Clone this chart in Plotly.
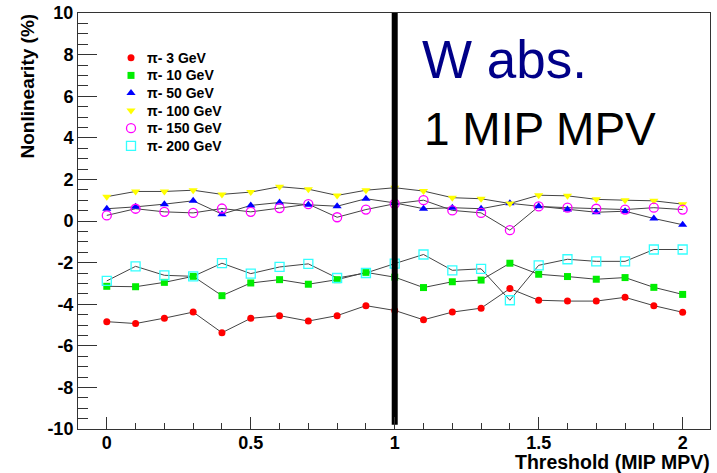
import plotly.graph_objects as go

threshold = [0.0, 0.1, 0.2, 0.3, 0.4, 0.5, 0.6, 0.7, 0.8, 0.9, 1.0,
             1.1, 1.2, 1.3, 1.4, 1.5, 1.6, 1.7, 1.8, 1.9, 2.0]

pi_3 = [-4.84, -4.93, -4.67, -4.38, -5.37, -4.68, -4.55, -4.81, -4.55, -4.07, -4.30,
        -4.75, -4.38, -4.19, -3.25, -3.81, -3.85, -3.85, -3.67, -4.07, -4.39]
pi_10 = [-3.14, -3.16, -2.95, -2.66, -3.59, -2.98, -2.82, -3.04, -2.82, -2.47, -2.70,
         -3.20, -2.92, -2.84, -2.03, -2.56, -2.67, -2.80, -2.72, -3.19, -3.53]
pi_50 = [0.59, 0.68, 0.81, 0.97, 0.33, 0.75, 0.89, 0.78, 0.71, 1.07, 0.87,
         0.59, 0.64, 0.59, 0.85, 0.71, 0.55, 0.42, 0.47, 0.12, -0.18]
pi_100 = [1.17, 1.42, 1.42, 1.48, 1.28, 1.39, 1.65, 1.53, 1.23, 1.48, 1.60,
          1.44, 1.12, 1.07, 0.84, 1.24, 1.21, 1.04, 1.00, 0.97, 0.81]
pi_150 = [0.27, 0.59, 0.44, 0.39, 0.60, 0.44, 0.62, 0.81, 0.18, 0.55, 0.83,
          1.00, 0.51, 0.39, -0.44, 0.70, 0.64, 0.59, 0.55, 0.64, 0.55]
pi_200 = [-2.88, -2.18, -2.61, -2.66, -2.03, -2.53, -2.21, -2.06, -2.74, -2.50, -2.05,
          -1.61, -2.37, -2.30, -3.81, -2.13, -1.84, -1.94, -1.94, -1.37, -1.37]

series_names = ["π- 3 GeV", "π- 10 GeV", "π- 50 GeV", "π- 100 GeV", "π- 150 GeV", "π- 200 GeV"]
series_values = [pi_3, pi_10, pi_50, pi_100, pi_150, pi_200]

cut_x = [1.0, 1.0]
cut_y = [-9.8, 10.0]

x_tick_vals = [0, 0.5, 1, 1.5, 2]
x_tick_text = ["0", "0.5", "1", "1.5", "2"]
y_tick_vals = [-10, -8, -6, -4, -2, 0, 2, 4, 6, 8, 10]
y_tick_text = ["-10", "-8", "-6", "-4", "-2", "0", "2", "4", "6", "8", "10"]

styles = [
    dict(symbol="circle", color="#ff0000", size=7, line=dict(width=0)),
    dict(symbol="square", color="#00ee00", size=7, line=dict(width=0)),
    dict(symbol="triangle-up", color="#0000ff", size=8, line=dict(width=0)),
    dict(symbol="triangle-down", color="#ffff00", size=8, line=dict(width=0)),
    dict(symbol="circle-open", color="#ff00ff", size=9, line=dict(width=1.3)),
    dict(symbol="square-open", color="#33ffff", size=9, line=dict(width=1.3)),
]

FONT = "Liberation Sans, Arial, sans-serif"

# layout geometry (pixels)
W, H = 717, 473
ML, MR, MT, MB = 78, 7, 13, 44
PW, PH = W - ML - MR, H - MT - MB

def px_x(p):
    return (p - ML) / PW

def px_y(p):
    return 1 - (p - MT) / PH

fig = go.Figure()

for vals in series_values:
    fig.add_trace(go.Scatter(
        x=threshold, y=vals, mode="lines",
        line=dict(color="#444444", width=1),
        showlegend=False, hoverinfo="skip"))

for name, vals, st in zip(series_names, series_values, styles):
    fig.add_trace(go.Scatter(
        x=threshold, y=vals, mode="markers", name=name,
        marker=st, showlegend=False))

fig.add_trace(go.Scatter(
    x=cut_x, y=cut_y, mode="lines", line=dict(color="black", width=6),
    showlegend=False, hoverinfo="skip"))

# manual ROOT-style legend (markers only) on an overlay axis in paper units
leg_x_marker = px_x(131)
leg_x_text = px_x(145)
leg_rows = [px_y(57.8 + 17.6 * i) for i in range(len(series_names))]
annotations = []
for name, st, yy in zip(series_names, styles, leg_rows):
    fig.add_trace(go.Scatter(
        x=[leg_x_marker], y=[yy], mode="markers", marker=st,
        xaxis="x2", yaxis="y2", showlegend=False, hoverinfo="skip"))
    annotations.append(dict(
        text=name, xref="paper", yref="paper", x=leg_x_text, y=yy,
        xanchor="left", yanchor="middle", showarrow=False,
        font=dict(family=FONT, size=14, color="black", weight="bold")))

annotations += [
    dict(text="W abs.", xref="paper", yref="paper", x=px_x(420), y=px_y(59.5),
         xanchor="left", yanchor="middle", showarrow=False,
         font=dict(family=FONT, size=53, color="#000088")),
    dict(text="1 MIP MPV", xref="paper", yref="paper", x=px_x(422), y=px_y(128.5),
         xanchor="left", yanchor="middle", showarrow=False,
         font=dict(family=FONT, size=46, color="black")),
    dict(text="Threshold (MIP MPV)", xref="paper", yref="paper", x=px_x(712), y=px_y(461.5),
         xanchor="right", yanchor="middle", showarrow=False,
         font=dict(family=FONT, size=19.5, color="black", weight="bold")),
    dict(text="Nonlinearity (%)", xref="paper", yref="paper", x=px_x(27), y=px_y(12),
         xanchor="center", yanchor="top", textangle=-90, showarrow=False,
         font=dict(family=FONT, size=19, color="black", weight="bold")),
]

fig.update_layout(
    width=W, height=H,
    margin=dict(l=ML, r=MR, t=MT, b=MB, autoexpand=False),
    paper_bgcolor="white", plot_bgcolor="white",
    font=dict(family=FONT, color="black"),
    showlegend=False,
    xaxis=dict(
        range=[-0.1, 2.095], showgrid=False, zeroline=False, automargin=False,
        showline=True, linecolor="#333333", linewidth=1, mirror=True,
        ticks="inside", ticklen=12, tickcolor="#333333", tickwidth=1,
        tickvals=x_tick_vals, ticktext=x_tick_text, ticklabelstandoff=-3,
        tickfont=dict(family=FONT, size=18, weight="bold"),
        minor=dict(dtick=0.1, ticks="inside", ticklen=6, tickcolor="#333333", tickwidth=1),
    ),
    yaxis=dict(
        range=[-10, 10], showgrid=False, zeroline=False, automargin=False,
        showline=True, linecolor="#333333", linewidth=1, mirror=True,
        ticks="inside", ticklen=19, tickcolor="#333333", tickwidth=1,
        tickvals=y_tick_vals, ticktext=y_tick_text,
        tickfont=dict(family=FONT, size=18, weight="bold"),
        minor=dict(dtick=0.5, ticks="inside", ticklen=10, tickcolor="#333333", tickwidth=1),
    ),
    xaxis2=dict(overlaying="x", range=[0, 1], visible=False, domain=[0, 1]),
    yaxis2=dict(overlaying="y", range=[0, 1], visible=False, domain=[0, 1]),
    annotations=annotations,
)

fig.write_html("out.html",
               config={"displayModeBar": False, "staticPlot": True},
               post_script="document.body.style.margin='0px';document.body.style.overflow='hidden';")
